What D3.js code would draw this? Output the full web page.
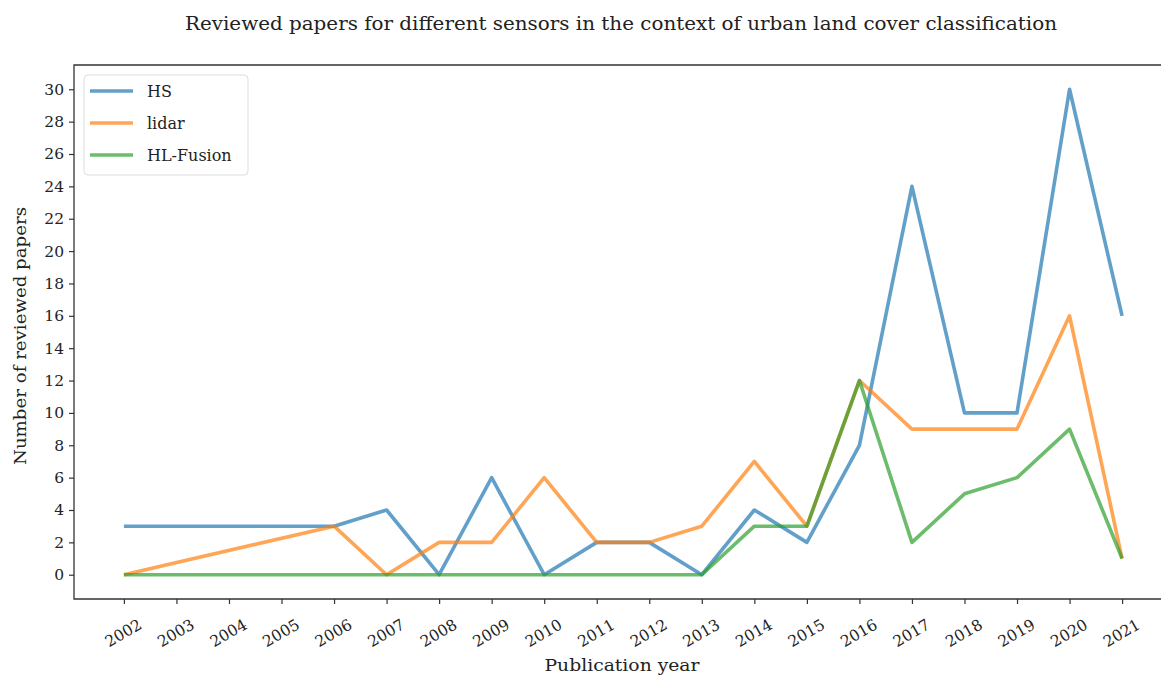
<!DOCTYPE html>
<html><head><meta charset="utf-8">
<script src="https://cdn.jsdelivr.net/npm/d3@7"></script>
<style>body{margin:0;background:#fff}svg{display:block}text{font-family:"DejaVu Serif","Liberation Serif",serif;fill:#222}</style>
</head><body><svg id="c" width="1161" height="676"></svg>
<script>
const years = [2002,2003,2004,2005,2006,2007,2008,2009,2010,2011,2012,2013,2014,2015,2016,2017,2018,2019,2020,2021];
const hsValues = [3,3,3,3,3,4,0,6,0,2,2,0,4,2,8,24,10,10,30,16];
const lidarValues = [0,null,null,null,3,0,2,2,6,2,2,3,7,3,12,9,9,9,16,1];
const fusionValues = [0,0,0,0,0,0,0,0,0,0,0,0,3,3,12,2,5,6,9,1];
const seriesNames = ["HS","lidar","HL-Fusion"];
const seriesColors = ["#1f77b4","#ff7f0e","#2ca02c"];
const yTicks = d3.range(0,31,2);

const svg = d3.select("#c");
const L=74, R=1172, T=65, B=599;
const x = d3.scaleLinear().domain([2002-0.95, 2021+0.95]).range([L,R]);
const y = d3.scaleLinear().domain([-1.5,31.5]).range([B,T]);

function fit(sel, w){ sel.attr("textLength",w).attr("lengthAdjust","spacingAndGlyphs"); }

fit(svg.append("text").attr("x",621).attr("y",30).attr("text-anchor","middle").attr("font-size",18).text("Reviewed papers for different sensors in the context of urban land cover classification"), 872);

const series = [hsValues, lidarValues, fusionValues];
const line = d3.line().x(d=>x(d[0])).y(d=>y(d[1]));
series.forEach((vals,i)=>{
  const pts = years.map((yr,j)=>[yr,vals[j]]).filter(d=>d[1]!==null);
  svg.append("path").attr("d",line(pts)).attr("fill","none").attr("stroke",seriesColors[i]).attr("stroke-opacity",0.7).attr("stroke-width",3.6).attr("stroke-linejoin","round");
});

// frame (left, top, bottom; right spine is outside the picture)
svg.append("path").attr("d",`M${R},${T}H${L}V${B}H${R}`).attr("fill","none").attr("stroke","#333").attr("stroke-width",1.3);

const xa = svg.append("g").attr("transform",`translate(0,${B})`).call(d3.axisBottom(x).tickValues(years).tickFormat(d3.format("d")).tickSize(5).tickPadding(4));
xa.select(".domain").remove();
xa.selectAll("line").attr("stroke","#333").attr("stroke-width",1.2);
xa.selectAll("text").attr("font-size",15.5).attr("text-anchor","end").attr("dy","0.35em").attr("transform","translate(16,24) rotate(-30)").attr("y",0);

const ya = svg.append("g").attr("transform",`translate(${L},0)`).call(d3.axisLeft(y).tickValues(yTicks).tickSize(5).tickPadding(5));
ya.select(".domain").remove();
ya.selectAll("line").attr("stroke","#333").attr("stroke-width",1.2);
ya.selectAll("text").attr("font-size",15.5);

fit(svg.append("text").attr("x",622).attr("y",671).attr("text-anchor","middle").attr("font-size",17).text("Publication year"),155);
fit(svg.append("text").attr("transform",`translate(26,${(T+B)/2+4}) rotate(-90)`).attr("text-anchor","middle").attr("font-size",17).text("Number of reviewed papers"),258);

// legend
const lg = svg.append("g");
lg.append("rect").attr("x",84).attr("y",75).attr("width",164).attr("height",100).attr("rx",4).attr("fill","#fff").attr("fill-opacity",0.8).attr("stroke","#ddd").attr("stroke-width",1);
seriesNames.forEach((n,i)=>{
  const yy = 91 + i*32;
  lg.append("line").attr("x1",90).attr("x2",133).attr("y1",yy).attr("y2",yy).attr("stroke",seriesColors[i]).attr("stroke-opacity",0.7).attr("stroke-width",3.6);
  lg.append("text").attr("x",147).attr("y",yy).attr("dy","0.35em").attr("font-size",16).text(n);
});
</script></body></html>
